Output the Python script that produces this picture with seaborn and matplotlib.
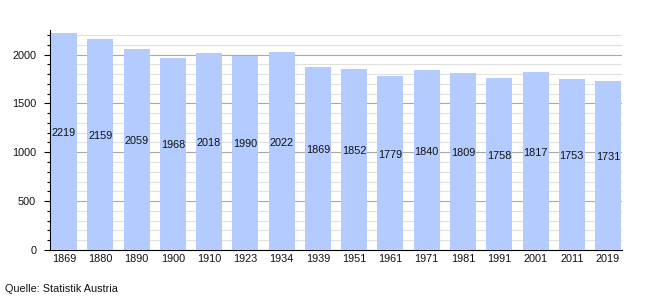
import matplotlib
matplotlib.use("Agg")
import matplotlib.pyplot as plt
import seaborn as sns
import pandas as pd
from matplotlib.ticker import MultipleLocator

years = ["1869", "1880", "1890", "1900", "1910", "1923", "1934", "1939",
         "1951", "1961", "1971", "1981", "1991", "2001", "2011", "2019"]
population = [2219, 2159, 2059, 1968, 2018, 1990, 2022, 1869,
              1852, 1779, 1840, 1809, 1758, 1817, 1753, 1731]
source = "Quelle: Statistik Austria"

df = pd.DataFrame({"year": years, "pop": population})

sns.set_theme(style="white")
plt.rcParams["font.family"] = ["Liberation Sans", "DejaVu Sans"]

fig = plt.figure(figsize=(6.5, 3.0), dpi=100)
ax = fig.add_axes([0.077, 0.1667, 0.88, 0.733])

sns.barplot(data=df, x="year", y="pop", color="#b3cbff", saturation=1,
            width=0.717, linewidth=0, ax=ax, zorder=3)

ax.set_ylim(0, 2250)
ax.set_xlim(-0.386, len(years) - 1 + 0.386)
ax.yaxis.set_major_locator(MultipleLocator(500))
ax.yaxis.set_minor_locator(MultipleLocator(100))
ax.grid(which="minor", axis="y", color="#e0e0e0", linewidth=0.8, zorder=0)
ax.grid(which="major", axis="y", color="#a8a8a8", linewidth=0.8, zorder=0)
ax.set_axisbelow(True)

for i, v in enumerate(population):
    ax.text(i, v / 2 + 35, str(v), ha="center", va="bottom", fontsize=7.8, color="#111111", zorder=4)

for s in ["top", "right"]:
    ax.spines[s].set_visible(False)
ax.spines["left"].set_color("black")
ax.spines["bottom"].set_color("black")
ax.spines["left"].set_linewidth(0.8)
ax.spines["bottom"].set_linewidth(0.8)

ax.tick_params(axis="y", which="major", left=True, length=4, width=0.8, color="black",
               labelsize=7.8, labelcolor="#111111", pad=6)
ax.tick_params(axis="y", which="minor", left=True, length=2, width=0.8, color="black")
ax.tick_params(axis="x", bottom=False, length=0, labelsize=7.8, labelcolor="#111111", pad=3)
ax.set_xlabel("")
ax.set_ylabel("")

fig.text(5 / 650, 1 - 289 / 300, source, fontsize=7.8, color="#111111", ha="left", va="center")

fig.savefig("out.png", dpi=100)
